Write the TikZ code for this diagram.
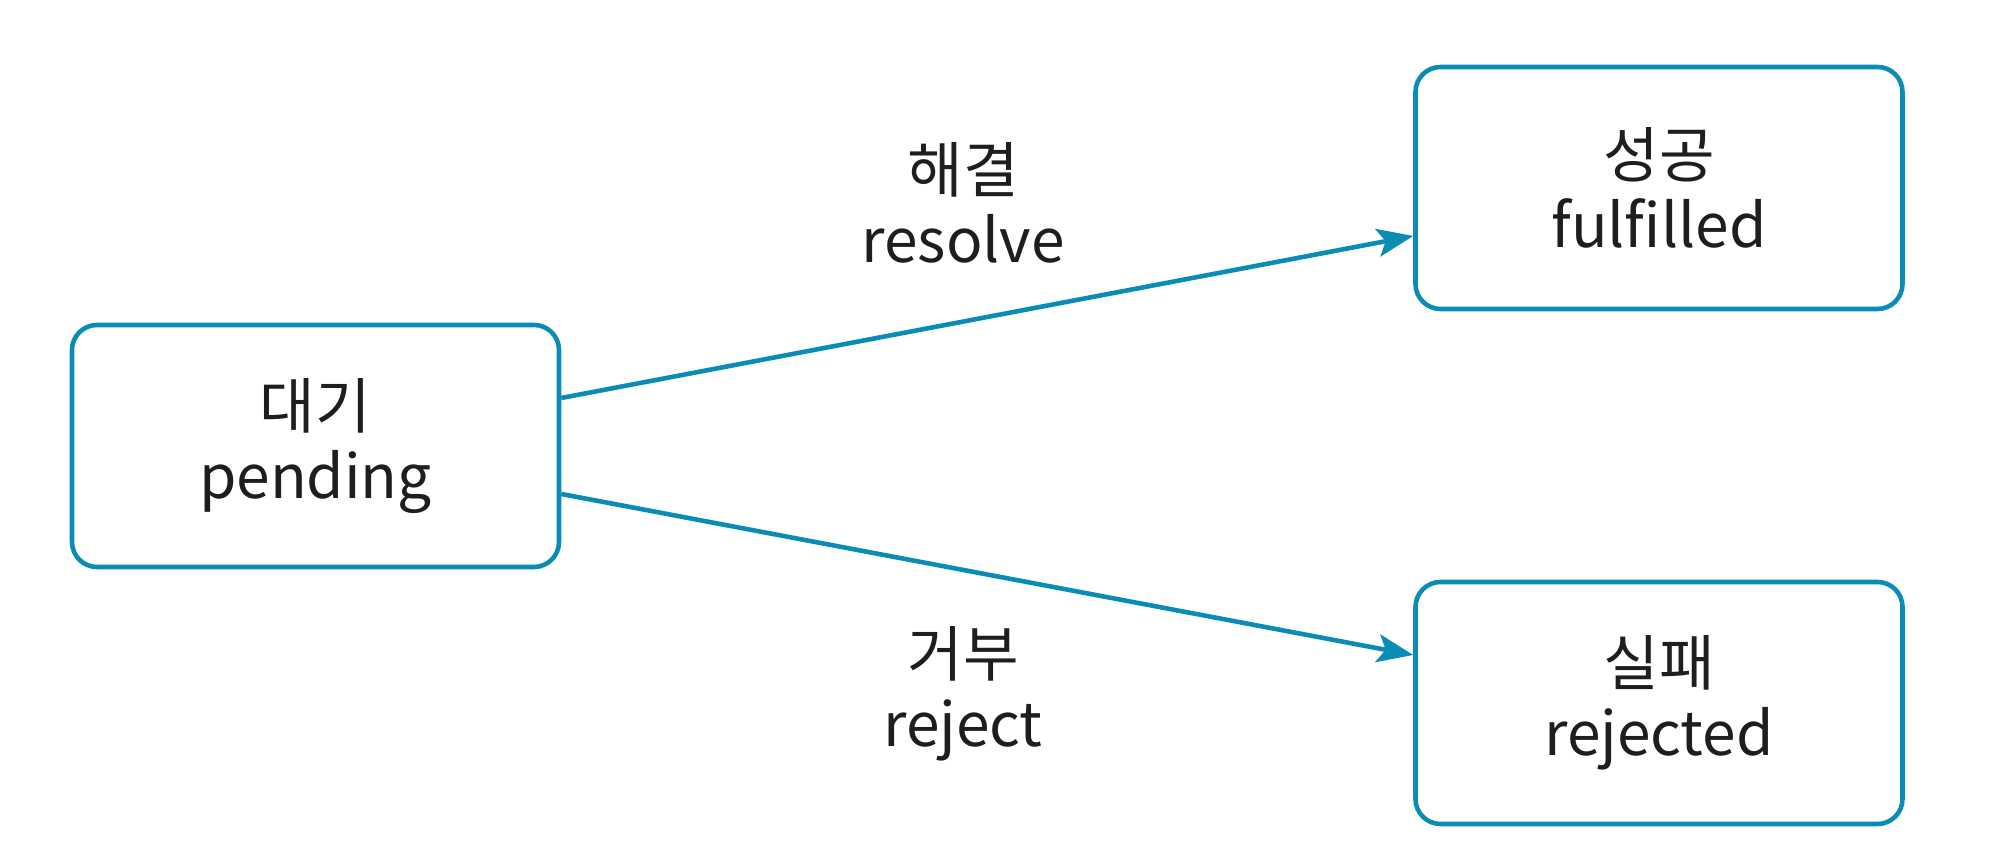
\documentclass[tikz,border=0pt]{standalone}
\usepackage{fontspec}
\setmainfont{Noto Sans CJK KR}
\usepackage{xcolor}
\usetikzlibrary{positioning}
\usetikzlibrary{arrows.meta}
\usetikzlibrary{calc}

\definecolor{statecol}{RGB}{10,140,180}
\definecolor{textcol}{RGB}{30,30,30}

\tikzset{
  statebox/.style={draw=statecol, line width=1.3pt, rounded corners=0.25cm,
    minimum width=4.87cm, minimum height=2.42cm, inner sep=0pt,
    align=center, text=textcol, font=\fontsize{17.2}{20}\selectfont},
  translabel/.style={align=center, text=textcol, font=\fontsize{17.2}{20}\selectfont},
  transarrow/.style={draw=statecol, line width=1.3pt,
    -{Stealth[length=3.6mm, width=2.8mm, inset=0.8mm]}}
}

\begin{document}
\begin{tikzpicture}

\useasboundingbox (0,0) rectangle (20,8.58);

\node[statebox] (pending) at (3.155,4.12) {대기\\pending};
\node[statebox] (fulfilled) at (16.59,6.70) {성공\\fulfilled};
\node[statebox] (rejected) at (16.59,1.55) {실패\\rejected};

\draw[transarrow] ([yshift=0.48cm]pending.east) -- ([yshift=-0.48cm]fulfilled.west);
\draw[transarrow] ([yshift=-0.48cm]pending.east) -- ([yshift=0.48cm]rejected.west);

\node[translabel] (resolve) at (9.63,6.55) {해결\\resolve};
\node[translabel] (reject) at (9.63,1.64) {거부\\reject};

\end{tikzpicture}
\end{document}
